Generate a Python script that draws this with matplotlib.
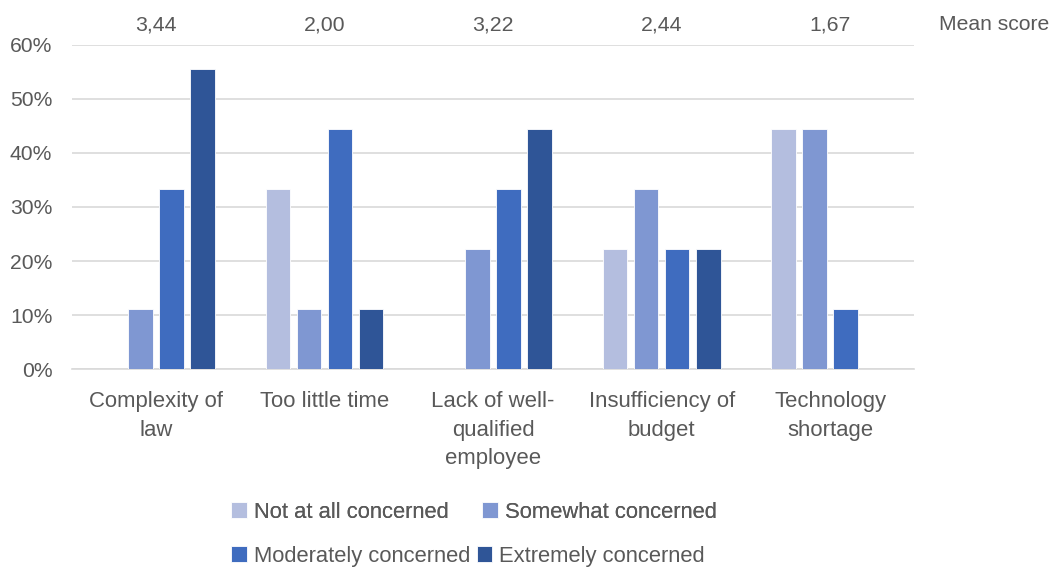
import numpy as np
import matplotlib.pyplot as plt
from matplotlib.ticker import PercentFormatter

plt.rcParams["font.family"] = ["Liberation Sans", "DejaVu Sans"]

categories = ["Complexity of\nlaw", "Too little time", "Lack of well-\nqualified\nemployee",
              "Insufficiency of\nbudget", "Technology\nshortage"]
series = ["Not at all concerned", "Somewhat concerned",
          "Moderately concerned", "Extremely concerned"]
not_at_all = [0, 33.3, 0, 22.2, 44.4]
somewhat = [11.1, 11.1, 22.2, 33.3, 44.4]
moderately = [33.3, 44.4, 33.3, 22.2, 11.1]
extremely = [55.6, 11.1, 44.4, 22.2, 0]
mean_scores = ["3,44", "2,00", "3,22", "2,44", "1,67"]

colors = ["#b4bedf", "#7f97d2", "#3f6cbf", "#2f5597"]
text_col = "#595959"

fig = plt.figure(figsize=(10.56, 5.67), dpi=100)
ax = fig.add_axes([0.068, 0.349, 0.798, 0.572])

x = np.arange(len(categories))
width = 0.146
step = 0.184
bars = []
for i, (vals, name) in enumerate(zip([not_at_all, somewhat, moderately, extremely], series)):
    b = ax.bar(x + (i - 1.5) * step, vals, width, color=colors[i], label=name,
               edgecolor="white", linewidth=0.6, zorder=3)
    bars.append(b)

ax.set_xlim(-0.5, len(categories) - 0.5)
ax.set_ylim(0, 60)
ax.set_yticks(range(0, 61, 10))
ax.yaxis.set_major_formatter(PercentFormatter(decimals=0))
ax.grid(axis="y", color="#d9d9d9", linewidth=1.2, zorder=0)
for s in ["left", "right", "top"]:
    ax.spines[s].set_visible(False)
ax.spines["bottom"].set_color("#d9d9d9")
ax.spines["bottom"].set_linewidth(1.2)
ax.tick_params(axis="both", length=0, colors=text_col)
ax.tick_params(axis="y", pad=14, labelsize=15.2)
ax.tick_params(axis="x", pad=16, labelsize=15.9)
ax.set_xticks(x)
ax.set_xticklabels(categories, va="top", linespacing=1.45)

for xi, m in zip(x, mean_scores):
    ax.text(xi, 1.062, m, transform=ax.get_xaxis_transform(), ha="center", va="center",
            fontsize=15.3, color=text_col)
fig.text(0.889, 0.956, "Mean score", ha="left", va="center", fontsize=15.2,
         color=text_col)

leg_kw = dict(ncol=2, loc="center left", frameon=False, fontsize=15.8,
              labelcolor=text_col, handlelength=0.72, handleheight=0.72,
              handletextpad=0.3, borderaxespad=0, borderpad=0)
leg1 = fig.legend(handles=bars[:2], labels=series[:2], bbox_to_anchor=(0.219, 0.097),
                  columnspacing=1.55, **leg_kw)
leg2 = fig.legend(handles=bars[2:], labels=series[2:], bbox_to_anchor=(0.219, 0.019),
                  columnspacing=0.3, **leg_kw)
fig.add_artist(leg1)

fig.savefig("out.png", dpi=100)
